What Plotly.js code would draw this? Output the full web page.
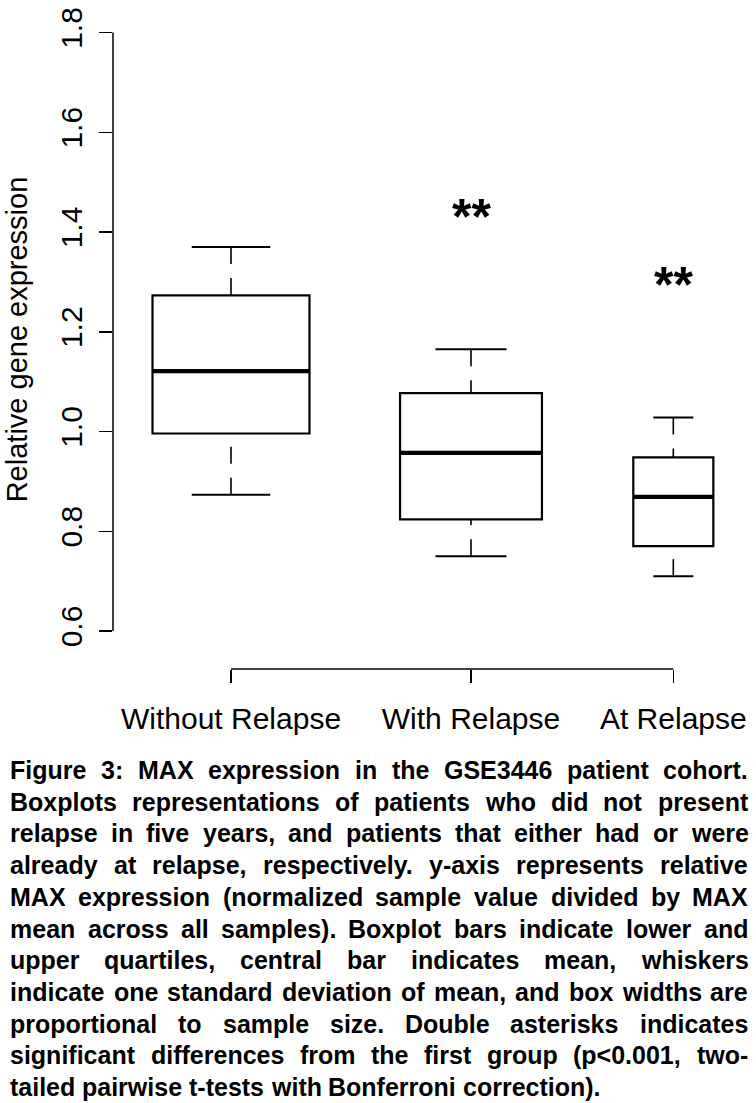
<!DOCTYPE html>
<html>
<head>
<meta charset="utf-8">
<script src="https://cdn.plot.ly/plotly-3.0.1.min.js"></script>
<style>
  html, body { margin: 0; padding: 0; background: #ffffff; }
  #chart { width: 756px; height: 1103px; }
</style>
</head>
<body>
<div id="chart"></div>
<script>
// ---------------- data ----------------
const categories = ['Without Relapse', 'With Relapse', 'At Relapse'];
const groupPos = [1, 2, 2.843];               // x positions of the groups (like R's at=)
const q1Vals = [0.996, 0.824, 0.770];         // lower quartile
const centerVals = [1.121, 0.957, 0.869];     // central bar (mean)
const q3Vals = [1.273, 1.077, 0.948];         // upper quartile
const whiskerLo = [0.873, 0.750, 0.710];      // mean - 1 SD
const whiskerHi = [1.370, 1.165, 1.028];      // mean + 1 SD
const relSampleSize = [1.0, 0.904, 0.510];    // box widths relative to largest group
const sigLabels = ['', '**', '**'];
const yTickVals = [0.6, 0.8, 1.0, 1.2, 1.4, 1.6, 1.8];
const yTitle = 'Relative gene expression';
const captionLines = [
  'Figure 3: MAX expression in the GSE3446 patient cohort.',
  'Boxplots representations of patients who did not present',
  'relapse in five years, and patients that either had or were',
  'already at relapse, respectively. y-axis represents relative',
  'MAX expression (normalized sample value divided by MAX',
  'mean across all samples). Boxplot bars indicate lower and',
  'upper quartiles, central bar indicates mean, whiskers',
  'indicate one standard deviation of mean, and box widths are',
  'proportional to sample size. Double asterisks indicates',
  'significant differences from the first group (p<0.001, two-',
  'tailed pairwise t-tests with Bonferroni correction).'
];

// ---------------- layout constants ----------------
const W = 756, H = 1103;
const M = { l: 113, r: 16, t: 10, b: 434 };
const plotW = W - M.l - M.r, plotH = H - M.t - M.b;
const FONT = '"Liberation Sans", Arial, Helvetica, sans-serif';
const MAX_BOX_W = 0.654;      // data units
const STAPLE = 0.5;           // staple width relative to box
const SIG_OFFSET = 0.266;     // asterisks above upper whisker

// caption settings (pixels)
const CAP_SIZE = 25, CAP_L = 9, CAP_R = 747, CAP_Y0 = 770, CAP_PITCH = 31.7;

const toPX = px => (px - M.l) / plotW;
const toPY = py => (H - M.b - py) / plotH;

// ---------------- traces ----------------
const traces = [];
categories.forEach((c, i) => {
  const w = MAX_BOX_W * relSampleSize[i];
  traces.push({
    type: 'box', orientation: 'v', name: c,
    x: [groupPos[i]], q1: [q1Vals[i]], median: [centerVals[i]], q3: [q3Vals[i]],
    lowerfence: [q1Vals[i]], upperfence: [q3Vals[i]],
    width: w, whiskerwidth: 0, boxpoints: false,
    line: { color: '#000', width: 2.2 }, fillcolor: 'rgba(255,255,255,0)',
    hoverinfo: 'skip', showlegend: false
  });
});

// whiskers (dashed), from whisker end toward the box
const wx = [], wy = [];
categories.forEach((c, i) => {
  wx.push(groupPos[i], groupPos[i], null, groupPos[i], groupPos[i], null);
  wy.push(whiskerHi[i], q3Vals[i], null, whiskerLo[i], q1Vals[i], null);
});
traces.push({ type: 'scatter', mode: 'lines', x: wx, y: wy, connectgaps: false,
  line: { color: '#000', width: 1.6, dash: '17px,14px' }, hoverinfo: 'skip', showlegend: false });

// staples
const sx = [], sy = [];
categories.forEach((c, i) => {
  const hw = MAX_BOX_W * relSampleSize[i] * STAPLE / 2;
  sx.push(groupPos[i] - hw, groupPos[i] + hw, null, groupPos[i] - hw, groupPos[i] + hw, null);
  sy.push(whiskerHi[i], whiskerHi[i], null, whiskerLo[i], whiskerLo[i], null);
});
traces.push({ type: 'scatter', mode: 'lines', x: sx, y: sy, connectgaps: false,
  line: { color: '#000', width: 2 }, hoverinfo: 'skip', showlegend: false });

// thick central bar
const mx = [], my = [];
categories.forEach((c, i) => {
  const hw = MAX_BOX_W * relSampleSize[i] / 2;
  mx.push(groupPos[i] - hw, groupPos[i] + hw, null);
  my.push(centerVals[i], centerVals[i], null);
});
traces.push({ type: 'scatter', mode: 'lines', x: mx, y: my, connectgaps: false,
  line: { color: '#000', width: 4.3 }, hoverinfo: 'skip', showlegend: false });

// ---------------- annotations ----------------
const annotations = [];
categories.forEach((c, i) => {
  if (!sigLabels[i]) return;
  annotations.push({ xref: 'x', yref: 'y', x: groupPos[i], y: whiskerHi[i] + SIG_OFFSET,
    text: sigLabels[i], showarrow: false, xanchor: 'center', yanchor: 'middle',
    font: { family: FONT, size: 50, color: '#000', weight: 'bold' } });
});

// justified caption, word by word
const esc = s => s.replace(/&/g, '&amp;').replace(/</g, '&lt;').replace(/>/g, '&gt;');
const ctx = document.createElement('canvas').getContext('2d');
ctx.font = 'bold ' + CAP_SIZE + 'px ' + FONT;
captionLines.forEach((line, li) => {
  const words = line.split(' ');
  const widths = words.map(w => ctx.measureText(w).width);
  const total = widths.reduce((a, b) => a + b, 0);
  const last = li === captionLines.length - 1;
  const gap = last ? ctx.measureText(' ').width : (CAP_R - CAP_L - total) / (words.length - 1);
  let x = CAP_L;
  const py = CAP_Y0 + li * CAP_PITCH;
  words.forEach((w, j) => {
    annotations.push({ xref: 'paper', yref: 'paper', x: toPX(x), y: toPY(py),
      xanchor: 'left', yanchor: 'middle', text: esc(w), showarrow: false, borderpad: 0,
      font: { family: FONT, size: CAP_SIZE, color: '#000', weight: 'bold' } });
    x += widths[j] + gap;
  });
});

// ---------------- axis lines (R style, spanning ticks only) ----------------
const shapes = [
  { type: 'line', xref: 'paper', yref: 'y', x0: 0, x1: 0,
    y0: yTickVals[0], y1: yTickVals[yTickVals.length - 1], line: { color: '#000', width: 1.5 } },
  { type: 'line', xref: 'x', yref: 'paper', y0: 0, y1: 0,
    x0: groupPos[0], x1: groupPos[groupPos.length - 1], line: { color: '#000', width: 1.5 } }
];

// ---------------- layout ----------------
const xRange = [1 - 118 / 240, 1 - 118 / 240 + plotW / 240];
const yTop = 1.8 + 22.5 / 498.75;
const yRange = [yTop - plotH / 498.75, yTop];

const layout = {
  width: W, height: H, margin: M,
  paper_bgcolor: '#fff', plot_bgcolor: '#fff',
  font: { family: FONT, color: '#000' },
  showlegend: false, boxmode: 'overlay',
  xaxis: {
    type: 'linear', range: xRange, showgrid: false, zeroline: false, showline: false,
    tickvals: groupPos, ticktext: categories, ticks: 'outside', ticklen: 13, tickwidth: 1.5,
    tickcolor: '#000', tickfont: { family: FONT, size: 30, color: '#000' }, ticklabelstandoff: 10,
    fixedrange: true
  },
  yaxis: {
    range: yRange, showgrid: false, zeroline: false, showline: false,
    tickvals: yTickVals, ticktext: yTickVals.map(v => v.toFixed(1)),
    ticks: 'outside', ticklen: 13, tickwidth: 1.5, tickcolor: '#000', tickangle: -90,
    tickfont: { family: FONT, size: 30, color: '#000' }, ticklabelstandoff: 5,
    title: { text: yTitle, font: { family: FONT, size: 29, color: '#000' }, standoff: 18 },
    fixedrange: true
  },
  shapes: shapes,
  annotations: annotations
};

Plotly.newPlot('chart', traces, layout, { staticPlot: true, displayModeBar: false });
</script>
</body>
</html>
